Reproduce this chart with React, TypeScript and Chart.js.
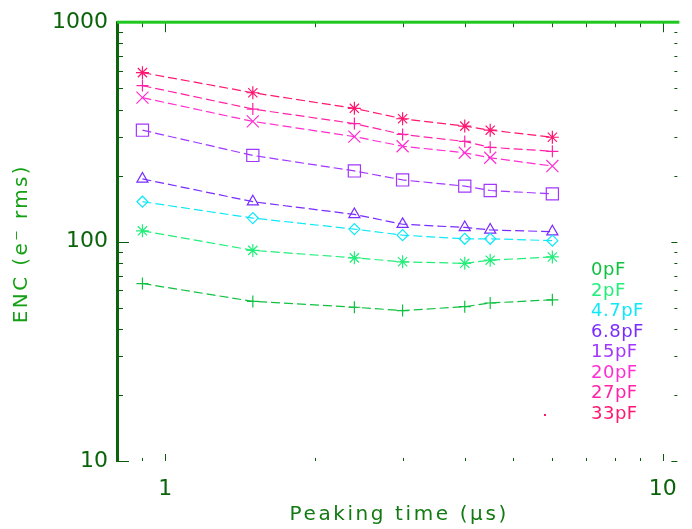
import { useEffect, useRef } from "react";
import { Chart, registerables } from "chart.js";

Chart.register(...registerables);

// ---- data ----
const peakingTimes = [0.9, 1.5, 2.4, 3.0, 4.0, 4.5, 6.0];
const capLabels = ["0pF", "2pF", "4.7pF", "6.8pF", "15pF", "20pF", "27pF", "33pF"];
const enc0pF = [64.4, 53.4, 50.2, 48.5, 50.5, 52.5, 54.3];
const enc2pF = [112, 91.2, 84.3, 80.9, 79.6, 82.3, 85.1];
const enc4p7pF = [152, 128, 114, 107, 103, 103, 101];
const enc6p8pF = [193, 152, 133, 120, 116, 113, 111];
const enc15pF = [322, 247, 210, 191, 179, 171, 165];
const enc20pF = [453, 353, 301, 272, 254, 241, 221];
const enc27pF = [514, 402, 345, 308, 286, 269, 258];
const enc33pF = [589, 477, 405, 363, 336, 322, 299];
const xTickValues = [1, 10];
const yTickValues = [10, 100, 1000];
const xTitle = "Peaking time (\u03bcs)";
const yTitle = "ENC (e\u207b rms)";

// ---- styles ----
const seriesValues = [enc0pF, enc2pF, enc4p7pF, enc6p8pF, enc15pF, enc20pF, enc27pF, enc33pF];
const seriesColors = ["#10c040", "#22ee7a", "#10e8f8", "#7a2cff", "#a236ff", "#ff2ed2", "#ff22a8", "#ff1670"];
const pointStyles = ["cross", "star", "rectRot", "triangle", "rect", "crossRot", "cross", "star"];
const pointRadii = [6, 6.5, 5.5, 6.4, 8.6, 8.5, 6, 6.5];

const FONT = "'DejaVu Sans', sans-serif";
const AXIS_DARK = "#0b640b";
const AXIS_TOP = "#1ec81e";
const TICK_COLOR = "#0b5a0b";

function logTickValues(min: number, max: number) {
  const out: { v: number; major: boolean }[] = [];
  for (let e = Math.floor(Math.log10(min)); e <= Math.ceil(Math.log10(max)); e++) {
    for (let k = 1; k <= 9; k++) {
      const v = k * Math.pow(10, e);
      if (v >= min * 0.9999 && v <= max * 1.0001) out.push({ v, major: k === 1 });
    }
  }
  return out;
}

const idlPlugin = {
  id: "idlDecor",
  afterDraw(chart: any) {
    const { ctx, chartArea: a, scales } = chart;
    const xs = scales.x;
    const ys = scales.y;
    ctx.save();
    // ticks
    ctx.fillStyle = TICK_COLOR;
    for (const t of logTickValues(xs.min, xs.max)) {
      const px = Math.round(xs.getPixelForValue(t.v));
      const lt = t.major ? 10 : 5;
      const lb = t.major ? 7 : 3;
      ctx.fillRect(px, a.top, 1, lt);
      ctx.fillRect(px, a.bottom - lb, 1, lb);
    }
    for (const t of logTickValues(ys.min, ys.max)) {
      const py = Math.round(ys.getPixelForValue(t.v));
      const ll = t.major ? 12 : 6;
      const lr = t.major ? 6 : 3;
      ctx.fillRect(a.left, py, ll, 1);
      ctx.fillRect(a.right - lr, py, lr, 1);
    }
    // axis lines (left and top only)
    ctx.fillStyle = AXIS_DARK;
    ctx.fillRect(a.left - 1, a.top - 1, 3, a.bottom - a.top + 2);
    ctx.fillStyle = AXIS_TOP;
    ctx.fillRect(a.left, a.top - 1.5, a.right - a.left + 2, 3);

    // axis titles
    (ctx as any).letterSpacing = "2.6px";
    ctx.font = `20px ${FONT}`;
    ctx.textAlign = "center";
    ctx.textBaseline = "middle";
    ctx.fillStyle = "#127a12";
    ctx.fillText(xTitle, (a.left + a.right) / 2 + 2, a.bottom + 54);
    (ctx as any).letterSpacing = "2.4px";
    ctx.save();
    ctx.translate(22, (a.top + a.bottom) / 2 + 2);
    ctx.rotate(-Math.PI / 2);
    ctx.fillStyle = "#14a014";
    ctx.fillText(yTitle, 0, 0);
    ctx.restore();

    // legend text
    (ctx as any).letterSpacing = "0.5px";
    ctx.font = `18px ${FONT}`;
    ctx.textAlign = "left";
    ctx.textBaseline = "middle";
    capLabels.forEach((lab, i) => {
      ctx.fillStyle = seriesColors[i];
      ctx.fillText(lab, 591, 270.5 + i * 20.5);
    });
    ctx.fillStyle = seriesColors[7];
    ctx.fillRect(544, 414, 2, 2);
    ctx.restore();
  },
};

export default function App() {
  const ref = useRef<HTMLCanvasElement>(null);
  useEffect(() => {
    if (!ref.current) return;
    const datasets = seriesValues.map((vals, i) => ({
      label: capLabels[i],
      data: peakingTimes.map((x, j) => ({ x, y: vals[j] })),
      borderColor: seriesColors[i],
      backgroundColor: "transparent",
      borderWidth: 1.2,
      borderDash: [9, 4],
      pointStyle: pointStyles[i],
      pointRadius: pointRadii[i],
      pointBorderColor: seriesColors[i],
      pointBackgroundColor: "transparent",
      pointBorderWidth: 1.2,
      fill: false,
      tension: 0,
    }));
    const chart = new Chart(ref.current, {
      type: "line",
      data: { datasets },
      options: {
        animation: false,
        responsive: false,
        devicePixelRatio: 1,
        layout: { padding: { top: 11, right: 2, left: 0, bottom: 0 } },
        plugins: { legend: { display: false }, tooltip: { enabled: false } },
        scales: {
          x: {
            type: "logarithmic",
            min: 0.8,
            max: 10.7,
            grid: { display: false, drawTicks: false },
            border: { display: false },
            ticks: {
              color: AXIS_DARK,
              font: { family: FONT, size: 22 },
              padding: 15,
              maxRotation: 0,
              autoSkip: false,
              callback: (v: any) => String(v),
            },
            afterBuildTicks: (s: any) => {
              s.ticks = xTickValues.map((value) => ({ value }));
            },
            afterFit: (s: any) => {
              s.height = 68;
            },
          },
          y: {
            type: "logarithmic",
            min: 10,
            max: 1000,
            grid: { display: false, drawTicks: false },
            border: { display: false },
            ticks: {
              color: AXIS_DARK,
              font: { family: FONT, size: 22 },
              padding: 9,
              autoSkip: false,
              callback: (v: any) => String(v),
            },
            afterBuildTicks: (s: any) => {
              s.ticks = yTickValues.map((value) => ({ value }));
            },
            afterFit: (s: any) => {
              s.width = 117;
            },
          },
        },
      } as any,
      plugins: [idlPlugin],
    });
    return () => chart.destroy();
  }, []);
  return (
    <div style={{ position: "fixed", left: 0, top: 0, width: 692, height: 529, background: "#fff" }}>
      <canvas ref={ref} width={692} height={529} style={{ display: "block" }} />
    </div>
  );
}
